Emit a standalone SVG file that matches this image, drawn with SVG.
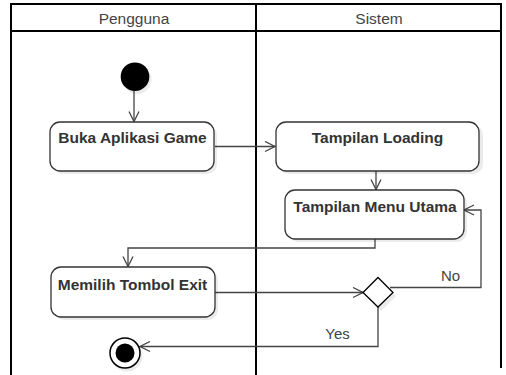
<svg xmlns="http://www.w3.org/2000/svg" width="506" height="375" viewBox="0 0 506 375">
<style>
.frame{stroke:#000;stroke-width:2;fill:none}
.box{fill:#fff;stroke:#333;stroke-width:1.3}
.shadow{fill:#000;opacity:0.08}
.lbl{font-family:"Liberation Sans",Arial,sans-serif;font-size:15.5px;font-weight:bold;fill:#333;text-anchor:middle}
.hdr{font-family:"Liberation Sans",Arial,sans-serif;font-size:15.5px;fill:#444;text-anchor:middle}
.edge{stroke:#444;stroke-width:1.3;fill:none}
.elbl{font-family:"Liberation Sans",Arial,sans-serif;font-size:15px;fill:#444;text-anchor:middle}
</style>
<defs>
<marker id="arr" viewBox="0 0 12 12" refX="11" refY="6" markerWidth="12" markerHeight="12" markerUnits="userSpaceOnUse" orient="auto">
<path d="M1,1 L11,6 L1,11" fill="none" stroke="#444" stroke-width="1.3"/>
</marker>
</defs>
<rect width="506" height="375" fill="#fff"/>
<g id="swimlanes">
<path class="frame" d="M11,375 V4 H501 V368 M256,4 V375 M11,31 H501"/>
<text class="hdr" x="134" y="23.5">Pengguna</text>
<text class="hdr" x="379" y="23.5">Sistem</text>
</g>
<g id="connectors">
<path class="edge" marker-end="url(#arr)" d="M134,91 V121.5"/>
<path class="edge" marker-end="url(#arr)" d="M215,146.5 H275"/>
<path class="edge" marker-end="url(#arr)" d="M376,171 V189.5"/>
<path class="edge" marker-end="url(#arr)" d="M375,239 V248 H128 V266.5"/>
<path class="edge" marker-end="url(#arr)" d="M215,292.5 H363"/>
<path class="edge" marker-end="url(#arr)" d="M390,287.5 H481 V210 H464"/>
<path class="edge" marker-end="url(#arr)" d="M378,307 V346.5 H140"/>
<text class="elbl" x="450.5" y="281">No</text>
<text class="elbl" x="337.5" y="339">Yes</text>
</g>
<g id="start">
<circle cx="137" cy="79.5" r="14.5" class="shadow"/>
<circle cx="135" cy="76.7" r="14.3" fill="#000"/>
</g>
<g id="buka">
<rect class="shadow" x="53" y="125" width="164" height="49" rx="10"/>
<rect class="box" x="50" y="122" width="164" height="49" rx="10"/>
<text class="lbl" x="132.5" y="143">Buka Aplikasi Game</text>
</g>
<g id="loading">
<rect class="shadow" x="279" y="125" width="204" height="49" rx="10"/>
<rect class="box" x="276" y="122" width="203" height="49" rx="10"/>
<text class="lbl" x="377.5" y="143">Tampilan Loading</text>
</g>
<g id="menu">
<rect class="shadow" x="288" y="193" width="179" height="49" rx="10"/>
<rect class="box" x="285" y="190" width="179" height="49" rx="10"/>
<text class="lbl" x="375" y="212">Tampilan Menu Utama</text>
</g>
<g id="memilih">
<rect class="shadow" x="54" y="270" width="164" height="50" rx="10"/>
<rect class="box" x="51" y="267" width="164" height="50" rx="10"/>
<text class="lbl" x="132.5" y="290">Memilih Tombol Exit</text>
</g>
<g id="decision">
<path class="shadow" d="M381,281 L396,296 L381,311 L366,296 Z"/>
<path d="M378,277.5 L393,292.5 L378,307 L363,292.5 Z" fill="#fff" stroke="#000" stroke-width="1.3"/>
</g>
<g id="end">
<circle cx="127" cy="356" r="15.5" class="shadow"/>
<circle cx="125" cy="353" r="15" fill="#fff" stroke="#000" stroke-width="1.5"/>
<circle cx="125" cy="353" r="9.5" fill="#000"/>
</g>
</svg>
